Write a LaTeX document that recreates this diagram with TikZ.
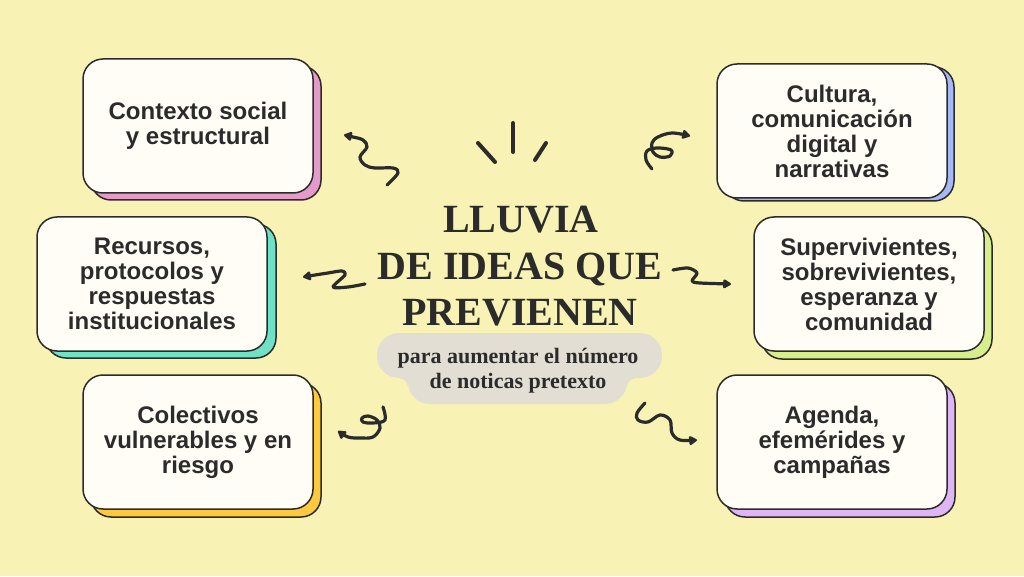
\documentclass[tikz,border=0pt]{standalone}
\usepackage{fontspec}
\setmainfont{Liberation Serif}
\setsansfont{Liberation Sans}
\usetikzlibrary{arrows.meta}
\definecolor{bg}{HTML}{F9F2B5}
\definecolor{ink}{HTML}{2B2B2B}
\definecolor{cardfill}{HTML}{FFFDF6}
\definecolor{blobc}{HTML}{E3DED4}
\definecolor{shpink}{HTML}{E59BC9}
\definecolor{shteal}{HTML}{6FE2C6}
\definecolor{shyellow}{HTML}{FFC93E}
\definecolor{shblue}{HTML}{A6B9F4}
\definecolor{shlime}{HTML}{D6EF8C}
\definecolor{shlav}{HTML}{DFB5F6}
\tikzset{
  cardbase/.style={draw=ink, line width=1.5pt, rounded corners=20pt,
    minimum width=230pt, minimum height=134pt, inner sep=0pt},
  card/.style={cardbase, fill=cardfill, text=ink, align=center,
    font=\sffamily\bfseries\fontsize{24}{25}\selectfont},
  cardshadow/.style={cardbase, fill=#1},
  squig/.style={draw=ink, line width=3.2pt, line cap=round, line join=round,
    -{Triangle[length=9pt,width=10pt,round]}},
  ray/.style={draw=ink, line width=4pt, line cap=round},
  titletext/.style={anchor=base, text=ink, inner sep=0pt,
    font=\bfseries\fontsize{40}{46}\selectfont},
  subtext/.style={anchor=base, text=ink, inner sep=0pt,
    font=\bfseries\fontsize{22}{25}\selectfont},
}
\begin{document}
\begin{tikzpicture}[x=1pt,y=1pt]
\useasboundingbox (0,0) rectangle (1024,576);
\fill[bg] (0,0) rectangle (1024,576);

% cards: shadows first
\node[cardshadow=shpink]   (c1s) at (206,443) {};
\node[cardshadow=shteal]   (c2s) at (161,285) {};
\node[cardshadow=shyellow] (c3s) at (206,126) {};
\node[cardshadow=shblue]   (c4s) at (839,442) {};
\node[cardshadow=shlime]   (c5s) at (877,284) {};
\node[cardshadow=shlav]    (c6s) at (840,126) {};

\node[card] (c1) at (198,450) {Contexto social\\y estructural};
\node[card] (c2) at (152,292) {Recursos,\\protocolos y\\respuestas\\institucionales};
\node[card] (c3) at (198,134) {Colectivos\\vulnerables y en\\riesgo};
\node[card] (c4) at (832,445) {Cultura,\\comunicación\\digital y\\narrativas};
\node[card] (c5) at (869,292) {Supervivientes,\\sobrevivientes,\\esperanza y\\comunidad};
\node[card] (c6) at (832,134) {Agenda,\\efemérides y\\campañas};

% subtitle blob
\fill[blobc, rounded corners=22pt] (377,198) rectangle (662,243);
\fill[blobc, rounded corners=22pt] (408,172) rectangle (627,216);
\fill[blobc] (398,198) rectangle (408,188);
\fill[bg] (398,188) circle (10pt);
\fill[blobc] (627,198) rectangle (637,188);
\fill[bg] (637,188) circle (10pt);

% title
\node[titletext] (t1) at (521,343) {LLUVIA};
\node[titletext] (t2) at (520,296) {DE IDEAS QUE};
\node[titletext] (t3) at (520,251) {PREVIENEN};
\node[subtext] (s1) at (518,213) {para aumentar el número};
\node[subtext] (s2) at (518,188) {de noticas pretexto};

% rays
\coordinate (r1a) at (478,433); \coordinate (r1b) at (495,414);
\coordinate (r2a) at (513,453); \coordinate (r2b) at (513,424);
\coordinate (r3a) at (546,433); \coordinate (r3b) at (535,416);
\draw[ray] (r1a) -- (r1b);
\draw[ray] (r2a) -- (r2b);
\draw[ray] (r3a) -- (r3b);

% squiggly arrows
\draw[squig] plot[smooth, tension=0.6] coordinates
  {(387,391) (398,403) (393,408) (375,408) (365,411) (360,419) (367,429) (363,436) (353,439) (344,441)};
\draw[squig] plot[smooth, tension=0.5] coordinates
  {(365,292) (348,289) (333,289) (345,301) (342,305) (328,303) (315,301) (303,299)};
\draw[squig] plot[smooth, tension=0.6] coordinates
  {(383,169) (385,156) (373,153) (363,154) (362,158) (368,160) (377,156) (380,148) (373,139) (360,138) (348,139) (338,145)};
\draw[squig] plot[smooth, tension=0.6] coordinates
  {(652,407) (646,416) (647,425) (657,428) (671,426) (670,420) (660,419) (653,424) (652,433) (658,439) (672,443) (690,440)};
\draw[squig] plot[smooth, tension=0.5] coordinates
  {(673,306) (688,308) (697,303) (692,295) (700,293) (731,292)};
\draw[squig] plot[smooth, tension=0.6] coordinates
  {(645,173) (637,163) (638,156) (648,154) (660,161) (670,156) (672,143) (680,136) (697,136)};
\end{tikzpicture}
\end{document}
